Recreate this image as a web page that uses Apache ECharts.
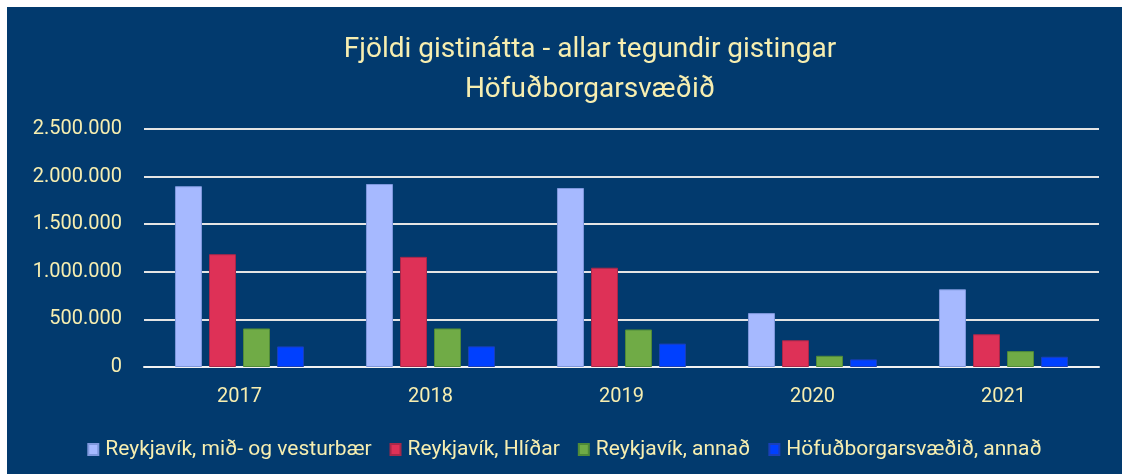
<!DOCTYPE html>
<html>
<head>
<meta charset="utf-8">
<script src="https://cdn.jsdelivr.net/npm/echarts@6/dist/echarts.min.js"></script>
<style>
  html, body { margin: 0; padding: 0; background: #ffffff; }
  #chart { position: absolute; left: 7px; top: 7px; width: 1115px; height: 467px; }
</style>
</head>
<body>
<div id="chart"></div>
<script>
const years = ['2017', '2018', '2019', '2020', '2021']
const seriesNames = [
  'Reykjavík, mið- og vesturbær',
  'Reykjavík, Hlíðar',
  'Reykjavík, annað',
  'Höfuðborgarsvæðið, annað'
]
const midVestur = [1899000, 1922000, 1880000, 566000, 816000]
const hlidar = [1185000, 1157000, 1043000, 281000, 344000]
const rvkAnnad = [405000, 405000, 394000, 118000, 167000]
const hofudAnnad = [216000, 217000, 246000, 80000, 108000]

const TEXT = '#f7eeb0'
const BG = '#023a6e'
const colors = ['#a6b9ff', '#de3157', '#70ab46', '#0040ff']
const borders = ['#7f98dd', '#a8284a', '#4f8a38', '#1a3fb8']

const fmt = v => String(v).replace(/\B(?=(\d{3})+(?!\d))/g, '.')

const chart = echarts.init(document.getElementById('chart'))
const values = [midVestur, hlidar, rvkAnnad, hofudAnnad]

chart.setOption({
  backgroundColor: BG,
  animation: false,
  textStyle: { fontFamily: 'Roboto' },
  graphic: [
    { type: 'text', x: 583, y: 43, style: { text: 'Fjöldi gistinátta - allar tegundir gistingar', fill: TEXT, font: '28px Roboto', textAlign: 'center', textVerticalAlign: 'middle' } },
    { type: 'text', x: 583, y: 83, style: { text: 'Höfuðborgarsvæðið', fill: TEXT, font: '28px Roboto', textAlign: 'center', textVerticalAlign: 'middle' } }
  ],
  legend: {
    left: 'center',
    top: 427,
    itemWidth: 10,
    itemHeight: 11,
    itemGap: 18,
    icon: 'rect',
    textStyle: { color: TEXT, fontSize: 21, fontFamily: 'Roboto', padding: [0, 0, 0, 2] },
    data: seriesNames
  },
  grid: { left: 137, right: 23, top: 122, bottom: 107, containLabel: false },
  xAxis: {
    type: 'category',
    data: years,
    axisLine: { lineStyle: { color: '#f2f2f2', width: 2 } },
    axisTick: { show: false },
    axisLabel: { color: TEXT, fontSize: 20, margin: 20 }
  },
  yAxis: {
    type: 'value',
    min: 0,
    max: 2500000,
    interval: 500000,
    axisLine: { show: false },
    axisTick: { show: false },
    axisLabel: { color: TEXT, fontSize: 20, margin: 22, formatter: fmt },
    splitLine: { lineStyle: { color: '#e4e4e4', width: 2 } }
  },
  series: seriesNames.map((name, i) => ({
    name,
    type: 'bar',
    data: values[i],
    barWidth: 27,
    barGap: '26%',
    itemStyle: { color: colors[i], borderColor: borders[i], borderWidth: 1 }
  }))
})
</script>
</body>
</html>
